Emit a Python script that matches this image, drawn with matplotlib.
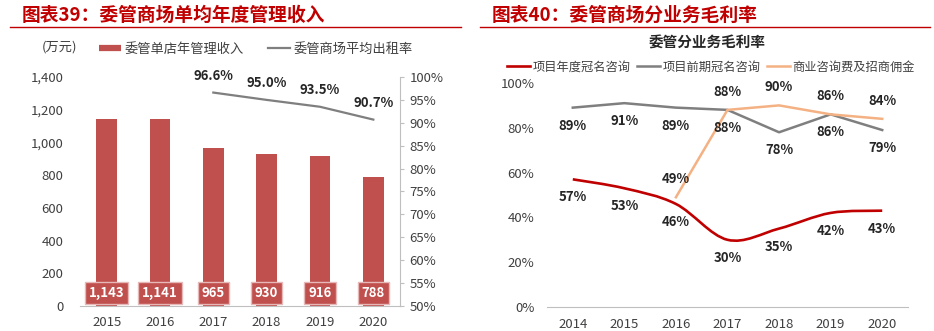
import matplotlib
matplotlib.use("Agg")
import matplotlib.pyplot as plt
import numpy as np
from matplotlib.lines import Line2D
from matplotlib.path import Path
from matplotlib.patches import PathPatch

plt.rcParams['font.family'] = ['Noto Sans CJK SC', 'DejaVu Sans']

# ---- data ----
years_l = ["2015", "2016", "2017", "2018", "2019", "2020"]
income = [1143, 1141, 965, 930, 916, 788]
occ_years = ["2017", "2018", "2019", "2020"]
occupancy = [96.6, 95.0, 93.5, 90.7]

years_r = ["2014", "2015", "2016", "2017", "2018", "2019", "2020"]
annual_naming = [57, 53, 46, 30, 35, 42, 43]
early_naming = [89, 91, 89, 88, 78, 86, 79]
biz_years = ["2016", "2017", "2018", "2019", "2020"]
biz_consult = [49, 88, 90, 86, 84]

W, H = 934, 331
RED = '#C00000'
BAR = '#C0504D'
GRAY = '#7F7F7F'
ORANGE = '#F4B183'
TXT = '#404040'


def box(x0, y0, x1, y1):
    return [x0 / W, 1 - y1 / H, (x1 - x0) / W, (y1 - y0) / H]


fig = plt.figure(figsize=(W / 100, H / 100), dpi=100)

# titles
fig.text(22 / W, 1 - 15 / H, '图表39：委管商场单均年度管理收入', color=RED,
         fontsize=13.5, fontweight='bold', style='italic', va='center')
fig.text(492 / W, 1 - 15 / H, '图表40：委管商场分业务毛利率', color=RED,
         fontsize=13.5, fontweight='bold', style='italic', va='center')
fig.add_artist(Line2D([10 / W, 461 / W], [1 - 26.5 / H] * 2, color=RED, lw=1))
fig.add_artist(Line2D([480 / W, 930 / W], [1 - 26.5 / H] * 2, color=RED, lw=1))

# ---- left chart ----
ax = fig.add_axes(box(80, 77, 400, 306))
xl = np.arange(len(years_l))
ax.bar(xl, income, width=0.39, color=BAR, zorder=2)
ax.set_xlim(-0.5, len(years_l) - 0.5)
ax.set_ylim(0, 1400)
ax.set_yticks(range(0, 1401, 200))
ax.set_yticklabels([f'{v:,}' for v in range(0, 1401, 200)])
ax.set_xticks(xl)
ax.set_xticklabels(years_l)
for s in ['top', 'right', 'left']:
    ax.spines[s].set_visible(False)
ax.spines['bottom'].set_color('#BFBFBF')
ax.tick_params(axis='x', length=0, pad=7, labelsize=9.5, labelcolor=TXT)
ax.tick_params(axis='y', length=0, pad=12, labelsize=9.5, labelcolor=TXT)
for x, v in zip(xl, income):
    ax.annotate(f'{v:,}', (x, 0), xytext=(0, 9.5), textcoords='offset points',
                ha='center', va='center', color='white', fontsize=9.5, fontweight='bold',
                bbox=dict(boxstyle='square,pad=0.3', fc=BAR, ec='#E6B8B7', lw=1), zorder=3)

ax2 = ax.twinx()
ax2.set_ylim(50, 100)
ax2.set_yticks(range(50, 101, 5))
ax2.set_yticklabels([f'{v}%' for v in range(50, 101, 5)])
xo = [years_l.index(y) for y in occ_years]
ax2.plot(xo, occupancy, color=GRAY, lw=1.6)
for x, v in zip(xo, occupancy):
    ax2.annotate(f'{v:.1f}%', (x, v), xytext=(0, 12), textcoords='offset points',
                 ha='center', va='center', fontsize=9.5, fontweight='bold', color='#262626')
for s in ['top', 'left', 'bottom']:
    ax2.spines[s].set_visible(False)
ax2.spines['right'].set_color('#BFBFBF')
ax2.tick_params(axis='y', length=3, color='#BFBFBF', pad=4, labelsize=9.5, labelcolor=TXT)

fig.text(42 / W, 1 - 47 / H, '(万元)', fontsize=9.5, color=TXT, va='center')
hl = [Line2D([], [], color=BAR, lw=4.5, solid_capstyle='butt'),
      Line2D([], [], color=GRAY, lw=1.6)]
fig.legend(hl, ['委管单店年管理收入', '委管商场平均出租率'], loc='center left',
           bbox_to_anchor=(99 / W, 1 - 49 / H), ncol=2, frameon=False, fontsize=9.5,
           handlelength=1.7, handletextpad=0.25, columnspacing=1.8,
           borderpad=0, borderaxespad=0, labelcolor=TXT)

# ---- right chart ----
bx = fig.add_axes(box(547, 83, 908, 307))
xr = np.arange(len(years_r))
bx.set_xlim(-0.5, len(years_r) - 0.5)
bx.set_ylim(0, 100)
bx.set_yticks(range(0, 101, 20))
bx.set_yticklabels([f'{v}%' for v in range(0, 101, 20)])
bx.set_xticks(xr)
bx.set_xticklabels(years_r)
for s in ['top', 'right', 'left']:
    bx.spines[s].set_visible(False)
bx.spines['bottom'].set_color('#BFBFBF')
bx.tick_params(axis='x', length=0, pad=8, labelsize=9.5, labelcolor=TXT)
bx.tick_params(axis='y', length=0, pad=9, labelsize=9.5, labelcolor=TXT)


def smooth_path(xs, ys):
    # Catmull-Rom style Bezier through the data points
    pts = np.column_stack([xs, ys]).astype(float)
    verts = [pts[0]]
    codes = [Path.MOVETO]
    n = len(pts)
    for i in range(n - 1):
        p0 = pts[max(i - 1, 0)]
        p1 = pts[i]
        p2 = pts[i + 1]
        p3 = pts[min(i + 2, n - 1)]
        verts += [p1 + (p2 - p0) / 6, p2 - (p3 - p1) / 6, p2]
        codes += [Path.CURVE4] * 3
    return Path(verts, codes)


bx.add_patch(PathPatch(smooth_path(xr, annual_naming), fc='none', ec=RED, lw=1.9,
                       zorder=3))
bx.plot(xr, early_naming, color=GRAY, lw=1.8)
xb = [years_r.index(y) for y in biz_years]
bx.plot(xb, biz_consult, color=ORANGE, lw=1.8)

for x, v in zip(xr, annual_naming):
    bx.annotate(f'{v}%', (x, v), xytext=(0, -13), textcoords='offset points',
                ha='center', va='center', fontsize=9.5, fontweight='bold', color='#262626')
for x, v in zip(xr, early_naming):
    bx.annotate(f'{v}%', (x, v), xytext=(0, -13), textcoords='offset points',
                ha='center', va='center', fontsize=9.5, fontweight='bold', color='#262626')
for x, v in zip(xb, biz_consult):
    bx.annotate(f'{v}%', (x, v), xytext=(0, 13), textcoords='offset points',
                ha='center', va='center', fontsize=9.5, fontweight='bold', color='#262626')

fig.text(707 / W, 1 - 43 / H, '委管分业务毛利率', fontsize=10.5, fontweight='bold',
         color='#262626', ha='center', va='center')
hr = [Line2D([], [], color=RED, lw=1.9), Line2D([], [], color=GRAY, lw=1.8),
      Line2D([], [], color=ORANGE, lw=1.8)]
fig.legend(hr, ['项目年度冠名咨询', '项目前期冠名咨询', '商业咨询费及招商佣金'],
           loc='center left', bbox_to_anchor=(507 / W, 1 - 67 / H), ncol=3,
           frameon=False, fontsize=8.8, handlelength=1.9, handletextpad=0.2,
           columnspacing=0.5, borderpad=0, borderaxespad=0, labelcolor=TXT)

fig.savefig('out.png', dpi=100)
